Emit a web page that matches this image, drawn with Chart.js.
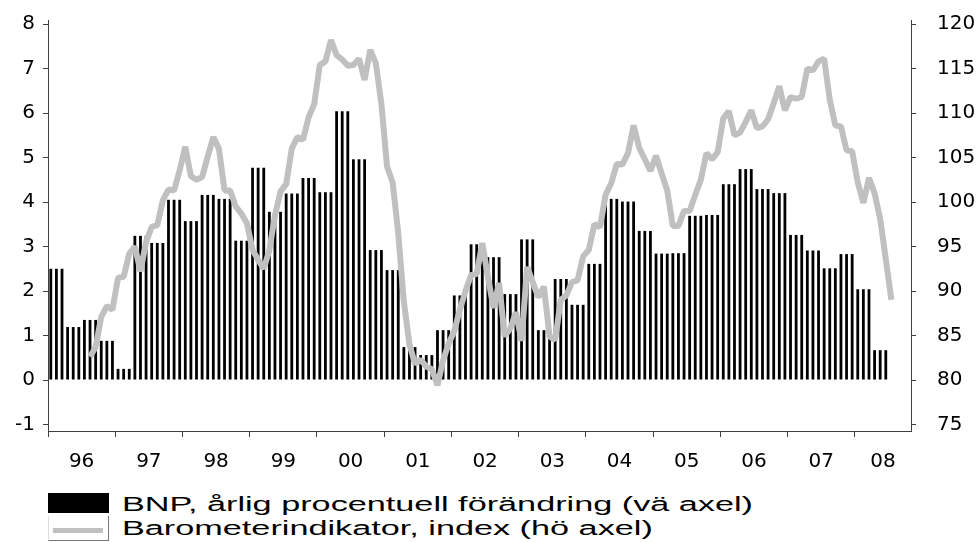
<!DOCTYPE html>
<html>
<head>
<meta charset="utf-8">
<script src="https://cdn.jsdelivr.net/npm/chart.js@4.4.1/dist/chart.umd.min.js"></script>
<style>
  body { margin: 0; background: #fff; }
  #wrap { position: relative; width: 976px; height: 542px; overflow: hidden; background: #fff; }
  #chart { position: absolute; left: 0; top: 0; }
  .swatch { position: absolute; left: 48px; width: 61px; box-sizing: border-box; }
  .swatch.bar { top: 493px; height: 20px; background: #000; }
  .swatch.line-box { top: 516px; height: 25px; border-right: 1px solid #777; border-bottom: 1px solid #777; border-left: 1px solid #ddd; }
  .swatch.line-box div { position: absolute; left: 4px; right: 5px; top: 12px; height: 5px; background: #c0c0c0; }
  .leg-text { position: absolute; left: 122px; font: 20px "Liberation Sans", Arial, sans-serif; line-height: 24px; color: #000; white-space: nowrap; transform-origin: 0 0; }
</style>
</head>
<body>
<div id="wrap">
  <canvas id="chart" width="976" height="480"></canvas>
  <div class="swatch bar"></div>
  <span class="leg-text" id="leg1" style="top:492px">BNP, årlig procentuell förändring (vä axel)</span>
  <div class="swatch line-box"><div></div></div>
  <span class="leg-text" id="leg2" style="top:516px">Barometerindikator, index (hö axel)</span>
</div>
<script>
// years on the x axis (monthly categories, Jan 1996 - Oct 2008)
const years = ['96', '97', '98', '99', '00', '01', '02', '03', '04', '05', '06', '07', '08'];
const monthCount = 154;

// BNP, annual % change (quarterly value shown on each month), Jan 1996 - Jun 2008
const bnp = [
  2.5, 2.5, 2.5, 1.19, 1.19, 1.19, 1.35, 1.35, 1.35, 0.88, 0.88, 0.88,       // 1996
  0.25, 0.25, 0.25, 3.24, 3.24, 3.24, 3.08, 3.08, 3.08, 4.05, 4.05, 4.05,    // 1997
  3.57, 3.57, 3.57, 4.16, 4.16, 4.16, 4.07, 4.07, 4.07, 3.13, 3.13, 3.13,    // 1998
  4.77, 4.77, 4.77, 3.78, 3.78, 3.78, 4.19, 4.19, 4.19, 4.54, 4.54, 4.54,    // 1999
  4.22, 4.22, 4.22, 6.04, 6.04, 6.04, 4.96, 4.96, 4.96, 2.92, 2.92, 2.92,    // 2000
  2.47, 2.47, 2.47, 0.74, 0.74, 0.74, 0.56, 0.56, 0.56, 1.12, 1.12, 1.12,    // 2001
  1.90, 1.90, 1.90, 3.05, 3.05, 3.05, 2.76, 2.76, 2.76, 1.93, 1.93, 1.93,    // 2002
  3.16, 3.16, 3.16, 1.12, 1.12, 1.12, 2.27, 2.27, 2.27, 1.69, 1.69, 1.69,    // 2003
  2.61, 2.61, 2.61, 4.07, 4.07, 4.07, 4.01, 4.01, 4.01, 3.35, 3.35, 3.35,    // 2004
  2.84, 2.84, 2.84, 2.85, 2.85, 2.85, 3.69, 3.69, 3.69, 3.71, 3.71, 3.71,    // 2005
  4.40, 4.40, 4.40, 4.74, 4.74, 4.74, 4.29, 4.29, 4.29, 4.20, 4.20, 4.20,    // 2006
  3.26, 3.26, 3.26, 2.91, 2.91, 2.91, 2.51, 2.51, 2.51, 2.83, 2.83, 2.83,    // 2007
  2.04, 2.04, 2.04, 0.67, 0.67, 0.67                                         // 2008
];

// Barometerindikator, monthly index, Aug 1996 - Jul 2008
const barometerStart = 7;
const barometer = [
  82.6, 83.7, 87.1, 88.3, 87.9,                                                   // 1996
  91.5, 91.6, 94.2, 95.0, 92.2, 95.5, 97.2, 97.4, 100.2, 101.4, 101.3, 103.6,    // 1997
  106.2, 102.9, 102.5, 102.8, 105.1, 107.3, 106.0, 101.3, 101.3, 99.5, 98.7, 97.6, // 1998
  94.6, 93.5, 92.5, 94.6, 98.5, 101.2, 102.0, 106.0, 107.3, 107.0, 109.5, 111.0, // 1999
  115.4, 115.8, 118.2, 116.5, 116.0, 115.3, 115.4, 116.1, 113.7, 117.1, 115.6, 111.0, // 2000
  104.0, 102.2, 96.5, 88.8, 84.0, 81.8, 82.3, 81.5, 81.2, 79.4, 82.2, 84.1,      // 2001
  85.5, 87.9, 90.0, 91.8, 91.9, 95.4, 91.6, 88.1, 90.9, 84.9, 85.8, 87.6,        // 2002
  84.4, 92.7, 91.0, 89.3, 90.5, 84.9, 84.5, 89.0, 89.5, 91.0, 91.2, 93.9,        // 2003
  94.6, 97.5, 97.2, 100.8, 102.1, 104.3, 104.2, 105.5, 108.6, 106.1, 104.8, 103.5, // 2004
  105.2, 103.2, 101.3, 97.3, 97.3, 99.0, 99.0, 100.8, 102.5, 105.5, 104.8, 105.6, // 2005
  109.4, 110.2, 107.5, 107.8, 109.0, 110.3, 108.3, 108.5, 109.3, 111.1, 113.0, 110.3, // 2006
  111.8, 111.6, 111.8, 115.0, 114.8, 115.8, 116.1, 111.5, 108.6, 108.5, 105.8, 105.7, // 2007
  102.2, 99.9, 102.7, 101.0, 98.1, 93.6, 89.0                                     // 2008
];

const leftTicks = [-1, 0, 1, 2, 3, 4, 5, 6, 7, 8];
const rightTicks = [75, 80, 85, 90, 95, 100, 105, 110, 115, 120];

// month categories
const months = [];
years.forEach(y => {
  for (let m = 1; m <= 12; m++) months.push(y + '-' + String(m).padStart(2, '0'));
});
const labels = months.slice(0, monthCount);

// line series aligned to the month categories
const barometerData = labels.map((_, i) => {
  const v = barometer[i - barometerStart];
  return v === undefined ? null : v;
});

// year label sits in the middle of the visible months of each year
function yearLabel(idx) {
  const k = Math.floor(idx / 12);
  const first = k * 12;
  const last = Math.min(first + 11, monthCount - 1);
  return idx === Math.ceil((first + last) / 2) ? years[k] : '';
}

const axisColor = '#404040';
const tickFont = { family: 'DejaVu Sans', size: 20 };
const halfMonth = (911 - 48) / monthCount / 2;

// fixed axis sizes so the plot area sits where it does in the original
function fixY(width) {
  return s => {
    s.width = width;
    s.paddingTop = 0;
    s.paddingBottom = 0;
  };
}

new Chart(document.getElementById('chart'), {
  type: 'bar',
  data: {
    labels: labels,
    datasets: [
      {
        type: 'line',
        label: 'Barometerindikator, index (hö axel)',
        data: barometerData,
        yAxisID: 'y2',
        borderColor: '#c0c0c0',
        borderWidth: 6,
        borderJoinStyle: 'bevel',
        pointRadius: 0,
        tension: 0,
        order: 0
      },
      {
        label: 'BNP, årlig procentuell förändring (vä axel)',
        data: bnp,
        yAxisID: 'y',
        backgroundColor: '#000',
        barPercentage: 0.5,
        categoryPercentage: 1.0,
        order: 1
      }
    ]
  },
  options: {
    responsive: false,
    animation: false,
    layout: { padding: { top: 20, left: 0, right: 0, bottom: 0 } },
    plugins: { legend: { display: false }, tooltip: { enabled: false } },
    scales: {
      x: {
        type: 'category',
        offset: true,
        grid: {
          offset: true,
          drawOnChartArea: false,
          tickLength: 6,
          color: ctx => (ctx.index % 12 === 0 ? axisColor : 'rgba(0,0,0,0)')
        },
        border: { display: true, color: axisColor, width: 1 },
        ticks: {
          autoSkip: false,
          maxRotation: 0,
          minRotation: 0,
          labelOffset: -halfMonth,
          padding: 13,
          color: '#000',
          font: tickFont,
          callback: (val, idx) => yearLabel(idx)
        },
        afterFit: s => { s.height = 49; }
      },
      y: {
        position: 'left',
        min: -1.146,
        max: 8.09,
        afterBuildTicks: s => { s.ticks = leftTicks.map(v => ({ value: v })); },
        grid: { drawOnChartArea: false, tickLength: 5, color: axisColor },
        border: { display: true, color: axisColor, width: 1 },
        ticks: { padding: 8, color: '#000', font: tickFont },
        afterFit: fixY(48)
      },
      y2: {
        position: 'right',
        min: 74.27,
        max: 120.45,
        afterBuildTicks: s => { s.ticks = rightTicks.map(v => ({ value: v })); },
        grid: { drawOnChartArea: false, tickLength: 5, color: axisColor },
        border: { display: true, color: axisColor, width: 1 },
        ticks: { padding: 21, color: '#000', font: tickFont },
        afterFit: fixY(65)
      }
    }
  }
});

// stretch legend text to the width it has in the original
const leg1 = document.getElementById('leg1');
const leg2 = document.getElementById('leg2');
const sx = 631 / leg1.getBoundingClientRect().width;
leg1.style.transform = 'scaleX(' + sx + ')';
leg2.style.transform = 'scaleX(' + sx + ')';
</script>
</body>
</html>
